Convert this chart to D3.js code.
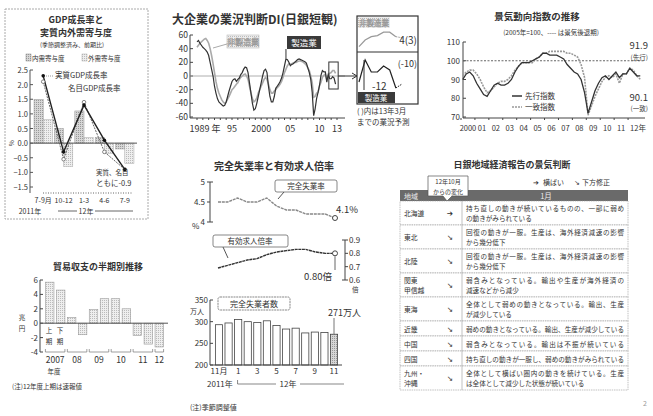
<!DOCTYPE html>
<html><head><meta charset="utf-8">
<script src="https://cdn.jsdelivr.net/npm/d3@7"></script>
<style>
body{margin:0;background:#fff}
text{font-family:"Noto Sans CJK JP",sans-serif;fill:#333}
.ttl{font-weight:bold}
</style></head><body>
<svg id="svg1" width="653" height="416"></svg>
<script>
// GDP
var gdpQuarters = ["7-9月","10-12","1-3","4-6","7-9"];
var gdpDomestic = [1.5, 0.5, 1.1, 0.2, -0.2];
var gdpExternal = [0.8, -0.8, 0.2, -0.35, -0.7];
var gdpReal = [2.3, -0.3, 1.3, 0.1, -0.9];
var gdpNominal = [2.1, -0.55, 1.4, -0.3, -0.9];
var gdpTicks = [2.5, 2.0, 1.5, 1.0, 0.5, 0.0, -0.5, -1.0, -1.5];

// 短観DI (quarterly from 1989)
var diStart = 1989;
var diMfg = [50,52,48,45, 42,40,38,35, 30,20,10,0, -15,-25,-33,-38, -40,-42,-44,-43, -38,-30,-22,-15,
  -8,-5,-4,-8, -5,-3,2,5, 10,13,12,5, -10,-25,-40,-50, -48,-40,-30,-20, -10,0,8,10,
  5,-15,-30,-38, -38,-30,-18,-15, -12,-8,-3,5, 15,25,24,20, 15,17,18,20, 22,24,25,24,
  23,22,21,19, 12,5,-5,-24, -58,-48,-33,-24, -14,1,8,6, 6,-9,2,-4, -4,-1,-3,-12];
var diNonMfg = [42,45,48,50, 52,54,55,52, 48,40,30,18, 5,-8,-18,-25, -30,-35,-38,-40, -38,-34,-30,-25,
  -20,-18,-15,-12, -10,-5,-2,0, 2,3,0,-5, -15,-25,-33,-38, -36,-32,-25,-20, -15,-10,-5,-2,
  -5,-12,-20,-25, -25,-22,-20,-17, -15,-12,-8,-2, 5,10,15,18, 17,18,19,20, 20,21,22,22,
  21,20,18,16, 12,8,0,-10, -31,-30,-25,-24, -14,-9,-2,1, 3,-5,1,4, 5,8,8,4];
var diForecastMfg = -10, diForecastNon = 3;
var diTicks = [60,40,20,0,-20,-40,-60];
var diXLabels = [[1989,"1989 年"],[1995,"95"],[2000,"2000"],[2005,"05"],[2010,"10"],[2013,"13"]];

// 景気動向指数 (quarterly from 2000)
var ciStart = 2000;
var ciLeading = [90,93,94,92, 88,85,82,81, 84,87,88,87, 87,88,90,94, 97,99,99,99, 100,101,102,104,
  104,103,103,103, 102,101,98,96, 94,93,90,83, 72,78,84,88, 91,92,90,92, 94,91,93,93, 96,94,92,91.9];
var ciCoincident = [92,94,95,95, 93,90,86,83, 84,86,88,89, 89,90,92,95, 97,99,99,99, 99,101,102,104,
  104,105,105,105, 105,105,104,104, 103,102,98,91, 71,76,81,85, 89,91,92,91, 93,88,93,93, 96,95,92,90.1];
var ciTicks = [110,100,90,80,70];
var ciXLabels = ["2000","01","02","03","04","05","06","07","08","09","10","11","12年"];

// 貿易収支
var tradeHalves = ["07上","07下","08上","08下","09上","09下","10上","10下","11上","11下","12上"];
var tradeValues = [5.7, 4.6, 0.8, -1.6, 1.9, 3.4, 3.4, 2.0, -1.7, -2.9, -3.3];
var tradeTicks = [6,4,2,0,-2,-4];
var tradeYears = ["2007","08","09","10","11","12"];

// 失業
var jobMonths = ["11月","12","1","2","3","4","5","6","7","8","9","10","11"];
var unempRate = [4.5,4.5,4.6,4.5,4.5,4.6,4.4,4.3,4.3,4.2,4.2,4.2,4.1];
var jobRatio = [0.69,0.71,0.73,0.75,0.76,0.79,0.81,0.82,0.83,0.83,0.81,0.80,0.80];
var unempCount = [293,297,305,300,298,302,291,283,285,274,276,275,271];
var unempTicks = [5,4.5,4];
var ratioTicks = [0.9,0.8,0.7,0.6];
var countTicks = [350,300,250,200];

// 地域経済報告
var regions = [["北海道"],["東北"],["北陸"],["関東","甲信越"],["東海"],["近畿"],["中国"],["四国"],["九州・","沖縄"]];
var regionChange = ["横ばい","下方修正","下方修正","下方修正","下方修正","下方修正","下方修正","下方修正","下方修正"];
var regionText = [
  ["持ち直しの動きが続いているものの、一部に弱め","の動きがみられている"],
  ["回復の動きが一服。生産は、海外経済減速の影響","から幾分低下"],
  ["回復の動きが一服。生産は、海外経済減速の影響","から幾分低下"],
  ["弱含みとなっている。輸出や生産が海外経済の","減速などから減少"],
  ["全体として弱めの動きとなっている。輸出、生産","が減少している"],
  ["弱めの動きとなっている。輸出、生産が減少している"],
  ["弱含みとなっている。輸出は不振が続いている"],
  ["持ち直しの動きが一服し、弱めの動きがみられている"],
  ["全体として横ばい圏内の動きを続けている。生産","は全体として減少した状態が続いている"]
];

var svg = d3.select("#svg1");
var defs = svg.append("defs");
function dots(id, bg, dot){
  var p = defs.append("pattern").attr("id", id).attr("width", 2).attr("height", 2).attr("patternUnits", "userSpaceOnUse");
  p.append("rect").attr("width", 2).attr("height", 2).attr("fill", bg);
  p.append("rect").attr("width", 1).attr("height", 1).attr("fill", dot);
}
dots("dotDark", "#d6d6d6", "#999");
dots("dotLight", "#eee", "#bbb");

function txt(g, x, y, s, size, anchor){
  return g.append("text").attr("x", x).attr("y", y).attr("font-size", size)
    .attr("text-anchor", anchor || "start").text(s);
}

/* ---------- GDP ---------- */
var g1 = svg.append("g");
g1.append("rect").attr("x", 5).attr("y", 9).attr("width", 143).attr("height", 210)
  .attr("fill", "none").attr("stroke", "#aaa").attr("stroke-dasharray", "2,1");
txt(g1, 76, 23, "GDP成長率と", 9, "middle").attr("class", "ttl");
txt(g1, 76, 36, "実質内外需寄与度", 9, "middle").attr("class", "ttl");
txt(g1, 72, 47, "(季節調整済み、前期比)", 6, "middle");
g1.append("rect").attr("x", 26).attr("y", 54).attr("width", 5).attr("height", 7).attr("fill", "url(#dotDark)").attr("stroke", "#888").attr("stroke-width", 0.5);
txt(g1, 32, 61, "内需寄与度", 6.5);
g1.append("rect").attr("x", 82).attr("y", 54).attr("width", 5).attr("height", 7).attr("fill", "url(#dotLight)").attr("stroke", "#aaa").attr("stroke-width", 0.5);
txt(g1, 88, 61, "外需寄与度", 6.5);

var xG = d3.scaleBand().domain(gdpQuarters).range([32, 136]).padding(0.1);
var yG = d3.scaleLinear().domain([-1.5, 2.5]).range([187, 70]);
g1.append("line").attr("x1", 30).attr("x2", 30).attr("y1", 70).attr("y2", 193).attr("stroke", "#555");
gdpTicks.forEach(function(t){
  g1.append("line").attr("x1", 30).attr("x2", 33).attr("y1", yG(t)).attr("y2", yG(t)).attr("stroke", "#555");
  txt(g1, 28, yG(t) + 3, d3.format(".1f")(t), 7.5, "end");
});
txt(g1, 9, yG(0) - 3, "%", 6.5).attr("transform", "rotate(90,9," + (yG(0) - 3) + ")");
var half = xG.bandwidth() / 2;
g1.selectAll(".dom").data(gdpDomestic).enter().append("rect")
  .attr("x", function(d, i){ return xG(gdpQuarters[i]); })
  .attr("width", half)
  .attr("y", function(d){ return yG(Math.max(0, d)); })
  .attr("height", function(d){ return Math.abs(yG(d) - yG(0)); })
  .attr("fill", "url(#dotDark)").attr("stroke", "#999").attr("stroke-width", 0.5);
g1.selectAll(".ext").data(gdpExternal).enter().append("rect")
  .attr("x", function(d, i){ return xG(gdpQuarters[i]) + half; })
  .attr("width", half)
  .attr("y", function(d){ return yG(Math.max(0, d)); })
  .attr("height", function(d){ return Math.abs(yG(d) - yG(0)); })
  .attr("fill", "url(#dotLight)").attr("stroke", "#aaa").attr("stroke-width", 0.5);
g1.append("line").attr("x1", 30).attr("x2", 137).attr("y1", yG(0)).attr("y2", yG(0)).attr("stroke", "#555");
var cx = function(d, i){ return xG(gdpQuarters[i]) + half; };
var lineG = d3.line().x(cx).y(function(d){ return yG(d); });
g1.append("path").attr("d", lineG(gdpNominal)).attr("fill", "none").attr("stroke", "#666").attr("stroke-width", 1).attr("stroke-dasharray", "2,1");
g1.append("path").attr("d", lineG(gdpReal)).attr("fill", "none").attr("stroke", "#222").attr("stroke-width", 1.4);
g1.selectAll(".nom").data(gdpNominal).enter().append("circle").attr("cx", cx).attr("cy", function(d){ return yG(d); })
  .attr("r", 1.8).attr("fill", "#fff").attr("stroke", "#555").attr("stroke-width", 0.7);
g1.selectAll(".real").data(gdpReal).enter().append("circle").attr("cx", cx).attr("cy", function(d){ return yG(d); })
  .attr("r", 1.8).attr("fill", "#111");
txt(g1, 55, 78, "実質GDP成長率", 7.5);
g1.append("line").attr("x1", 46).attr("x2", 54).attr("y1", 76).attr("y2", 76).attr("stroke", "#999").attr("stroke-dasharray", "1,1");
txt(g1, 68, 91, "名目GDP成長率", 7.5);
txt(g1, 96, 175, "実質、名目", 6.5);
txt(g1, 96, 186, "ともに-0.9", 7.5);
g1.append("line").attr("x1", 43).attr("x2", 133).attr("y1", 193).attr("y2", 193).attr("stroke", "#666").attr("stroke-dasharray", "1,1.5");
gdpQuarters.forEach(function(q, i){
  txt(g1, xG(q) + half, 203, q, 7, "middle");
});
txt(g1, 30, 214, "2011年", 7, "middle");
g1.append("line").attr("x1", 58).attr("x2", 77).attr("y1", 211).attr("y2", 211).attr("stroke", "#666");
g1.append("line").attr("x1", 95).attr("x2", 133).attr("y1", 211).attr("y2", 211).attr("stroke", "#666");
txt(g1, 86, 214, "12年", 7, "middle");

/* ---------- DI ---------- */
var g2 = svg.append("g");
txt(g2, 172, 24, "大企業の業況判断DI(日銀短観)", 12).attr("class", "ttl");
var xD = d3.scaleLinear().domain([1989, 2013]).range([197, 337]);
var yD = d3.scaleLinear().domain([-60, 60]).range([117, 35]);
g2.append("line").attr("x1", 190).attr("x2", 190).attr("y1", 35).attr("y2", 118).attr("stroke", "#444");
diTicks.forEach(function(t){
  g2.append("line").attr("x1", 190).attr("x2", 193).attr("y1", yD(t)).attr("y2", yD(t)).attr("stroke", "#444");
  txt(g2, 188, yD(t) + 3, t, 8.5, "end");
});
g2.append("line").attr("x1", 190).attr("x2", 345).attr("y1", yD(0)).attr("y2", yD(0)).attr("stroke", "#999").attr("stroke-width", 0.8);
g2.append("line").attr("x1", 190).attr("x2", 345).attr("y1", 118).attr("y2", 118).attr("stroke", "#444");
d3.range(1989, 2014).forEach(function(y){
  g2.append("line").attr("x1", xD(y)).attr("x2", xD(y)).attr("y1", 118).attr("y2", 120).attr("stroke", "#444");
});
diXLabels.forEach(function(d){
  txt(g2, xD(d[0]) + (d[0] == 1989 ? 8 : 0), 132, d[1], 9, "middle");
});
var lineD = d3.line().x(function(d, i){ return xD(diStart + i / 4); }).y(function(d){ return yD(d); });
g2.append("path").attr("d", lineD(diNonMfg)).attr("fill", "none").attr("stroke", "#aaa").attr("stroke-width", 1.6);
g2.append("path").attr("d", lineD(diMfg)).attr("fill", "none").attr("stroke", "#333").attr("stroke-width", 1.2);
// labels
g2.append("rect").attr("x", 227).attr("y", 35).attr("width", 32).attr("height", 13).attr("fill", "url(#dotLight)").attr("stroke", "#bbb").attr("stroke-width", 0.6);
txt(g2, 243, 45, "非製造業", 8, "middle").style("fill", "#fff").attr("stroke", "#999").attr("stroke-width", 0.5);
g2.append("line").attr("x1", 227).attr("x2", 213).attr("y1", 44).attr("y2", 48).attr("stroke", "#aaa");
g2.append("rect").attr("x", 287).attr("y", 36).attr("width", 34).attr("height", 13).attr("fill", "#3a3a3a");
txt(g2, 304, 46, "製造業", 8.5, "middle").style("fill", "#fff");
g2.append("line").attr("x1", xD(2004.25)).attr("x2", xD(2004.25)).attr("y1", 49).attr("y2", yD(26)).attr("stroke", "#333");
// highlight & inset
g2.append("rect").attr("x", xD(2011.6)).attr("y", 62).attr("width", xD(2013.2) - xD(2011.6)).attr("height", 27).attr("fill", "none").attr("stroke", "#333").attr("stroke-width", 1);
g2.append("path").attr("d", "M" + xD(2013.2) + ",76 L357,76 M352,73 L357,76 L352,79").attr("stroke", "#333").attr("fill", "none").attr("stroke-width", 1);
g2.append("rect").attr("x", 357).attr("y", 16).attr("width", 61).attr("height", 88).attr("fill", "#fff").attr("stroke", "#333").attr("stroke-width", 1.2);
g2.append("line").attr("x1", 357).attr("x2", 418).attr("y1", 52).attr("y2", 52).attr("stroke", "#333").attr("stroke-width", 1.2);
var n = diMfg.length, first = n - 7;
var xI = d3.scaleLinear().domain([diStart + first / 4, diStart + n / 4]).range([359, 402]);
var yIn = d3.scaleLinear().domain([-8, 10]).range([50, 30]);
var yIm = d3.scaleLinear().domain([-14, 4]).range([92, 56]);
var sliceNon = diNonMfg.slice(first), sliceMfg = diMfg.slice(first);
var lineIn = d3.line().x(function(d, i){ return xI(diStart + (first + i) / 4); }).y(function(d){ return yIn(d); });
var lineIm = d3.line().x(function(d, i){ return xI(diStart + (first + i) / 4); }).y(function(d){ return yIm(d); });
g2.append("path").attr("d", lineIn(sliceNon)).attr("fill", "none").attr("stroke", "#999").attr("stroke-width", 1.2);
g2.append("path").attr("d", lineIm(sliceMfg)).attr("fill", "none").attr("stroke", "#222").attr("stroke-width", 1.2);
g2.append("line").attr("x1", xI(diStart + (n - 1) / 4)).attr("x2", xI(diStart + n / 4)).attr("y1", yIn(diNonMfg[n - 1])).attr("y2", yIn(diForecastNon)).attr("stroke", "#999").attr("stroke-dasharray", "1.5,1");
g2.append("line").attr("x1", xI(diStart + (n - 1) / 4)).attr("x2", xI(diStart + n / 4)).attr("y1", yIm(diMfg[n - 1])).attr("y2", yIm(diForecastMfg)).attr("stroke", "#222").attr("stroke-dasharray", "1.5,1");
g2.append("rect").attr("x", 358).attr("y", 17).attr("width", 32).attr("height", 11).attr("fill", "url(#dotLight)");
txt(g2, 374, 26, "非製造業", 7.5, "middle").style("fill", "#fff").attr("stroke", "#999").attr("stroke-width", 0.5);
txt(g2, 417, 44, "4(3)", 10, "end");
txt(g2, 417, 67, "(-10)", 9, "end");
txt(g2, 372, 90, "-12", 10);
g2.append("line").attr("x1", 364).attr("x2", 364).attr("y1", 60).attr("y2", 90).attr("stroke", "#333");
g2.append("rect").attr("x", 358).attr("y", 92).attr("width", 37).attr("height", 11).attr("fill", "#3a3a3a");
txt(g2, 376, 101, "製造業", 7.5, "middle").style("fill", "#fff");
txt(g2, 357, 114, "( )内は13年3月", 7.5);
txt(g2, 357, 125, "までの業況予測", 7.5);

/* ---------- 景気動向指数 ---------- */
var g3 = svg.append("g");
txt(g3, 537, 20, "景気動向指数の推移", 9.5, "middle").attr("class", "ttl");
txt(g3, 551, 35, "(2005年=100、---- は景気後退期)", 6.5, "middle");
var xC = d3.scaleLinear().domain([2000, 2013]).range([461, 642]);
var yC = d3.scaleLinear().domain([70, 110]).range([117, 42]);
g3.append("line").attr("x1", 463).attr("x2", 463).attr("y1", 42).attr("y2", 118).attr("stroke", "#444");
ciTicks.forEach(function(t){
  g3.append("line").attr("x1", 463).attr("x2", 466).attr("y1", yC(t)).attr("y2", yC(t)).attr("stroke", "#444");
  txt(g3, 460, yC(t) + 3, t, 8, "end");
});
g3.append("line").attr("x1", 463).attr("x2", 645).attr("y1", 118).attr("y2", 118).attr("stroke", "#444");
g3.append("line").attr("x1", 463).attr("x2", 645).attr("y1", yC(100)).attr("y2", yC(100)).attr("stroke", "#666").attr("stroke-dasharray", "2,1.5");
ciXLabels.forEach(function(l, i){
  g3.append("line").attr("x1", xC(2000 + i)).attr("x2", xC(2000 + i)).attr("y1", 118).attr("y2", 120).attr("stroke", "#444");
  txt(g3, xC(2000.5 + i) + (i == 12 ? 3 : 0), 131, l, 7.5, "middle");
});
var lineC = d3.line().x(function(d, i){ return xC(ciStart + i / 4 + 0.125); }).y(function(d){ return yC(d); });
g3.append("path").attr("d", lineC(ciCoincident)).attr("fill", "none").attr("stroke", "#999").attr("stroke-width", 1.6).attr("stroke-dasharray", "2,1");
g3.append("path").attr("d", lineC(ciLeading)).attr("fill", "none").attr("stroke", "#333").attr("stroke-width", 1.3);
g3.append("line").attr("x1", 512).attr("x2", 522).attr("y1", 96).attr("y2", 96).attr("stroke", "#333").attr("stroke-width", 1.5);
txt(g3, 525, 99, "先行指数", 7.5);
g3.append("line").attr("x1", 512).attr("x2", 522).attr("y1", 107).attr("y2", 107).attr("stroke", "#999").attr("stroke-width", 1.5).attr("stroke-dasharray", "2,1");
txt(g3, 525, 110, "一致指数", 7.5);
txt(g3, 648, 49, "91.9", 9.5, "end");
txt(g3, 648, 60, "(先行)", 6.5, "end");
txt(g3, 648, 101, "90.1", 9.5, "end");
txt(g3, 648, 111, "(一致)", 6.5, "end");

/* ---------- 貿易収支 ---------- */
var g4 = svg.append("g");
txt(g4, 98, 270, "貿易収支の半期別推移", 9, "middle").attr("class", "ttl");
var xT = d3.scaleBand().domain(tradeHalves).range([43, 166]).padding(0.22);
var yT = d3.scaleLinear().domain([-4, 6]).range([352, 280]);
g4.append("line").attr("x1", 40).attr("x2", 40).attr("y1", 280).attr("y2", 352).attr("stroke", "#444");
tradeTicks.forEach(function(t){
  g4.append("line").attr("x1", 40).attr("x2", 43).attr("y1", yT(t)).attr("y2", yT(t)).attr("stroke", "#444");
  txt(g4, 38, yT(t) + 3, t, 8, "end");
});
txt(g4, 22, 320, "兆", 6.5, "middle");
txt(g4, 22, 331, "円", 6.5, "middle");
g4.selectAll(".tb").data(tradeValues).enter().append("rect")
  .attr("x", function(d, i){ return xT(tradeHalves[i]); })
  .attr("width", xT.bandwidth())
  .attr("y", function(d){ return yT(Math.max(0, d)); })
  .attr("height", function(d){ return Math.abs(yT(d) - yT(0)); })
  .attr("fill", "url(#dotLight)").attr("stroke", "#999").attr("stroke-width", 0.6);
g4.append("line").attr("x1", 40).attr("x2", 168).attr("y1", yT(0)).attr("y2", yT(0)).attr("stroke", "#555");
txt(g4, 49, 333, "上", 6.5, "middle"); txt(g4, 49, 344, "期", 6.5, "middle");
txt(g4, 60, 333, "下", 6.5, "middle"); txt(g4, 60, 344, "期", 6.5, "middle");
tradeYears.forEach(function(y, i){
  var a = xT(tradeHalves[i * 2]), b = i * 2 + 1 < tradeHalves.length ? xT(tradeHalves[i * 2 + 1]) + xT.bandwidth() : a + xT.bandwidth();
  g4.append("path").attr("d", "M" + a + ",349 V352 H" + b + " V349").attr("fill", "none").attr("stroke", "#777").attr("stroke-width", 0.7);
  txt(g4, (a + b) / 2, 363, y, 8.5, "middle");
});
txt(g4, 54, 374, "年度", 6.5, "middle");
txt(g4, 12, 389, "(注)12年度上期は速報値", 6.5);

/* ---------- 失業 ---------- */
var g5 = svg.append("g");
txt(g5, 274, 170, "完全失業率と有効求人倍率", 10, "middle").attr("class", "ttl");
var xM = d3.scaleLinear().domain([0, 12]).range([218, 335]);
var yU = d3.scaleLinear().domain([4, 5]).range([222, 182]);
g5.append("path").attr("d", "M213,182 H210 V222 H213").attr("fill", "none").attr("stroke", "#444");
unempTicks.forEach(function(t){
  g5.append("line").attr("x1", 207).attr("x2", 210).attr("y1", yU(t)).attr("y2", yU(t)).attr("stroke", "#444");
  txt(g5, 205, yU(t) + 3, t, 8, "end");
});
txt(g5, 192, 229, "%", 8);
var lineU = d3.line().x(function(d, i){ return xM(i); }).y(function(d){ return yU(d); });
g5.append("path").attr("d", lineU(unempRate)).attr("fill", "none").attr("stroke", "#888").attr("stroke-width", 1.4).attr("stroke-dasharray", "3,0.8");
g5.append("circle").attr("cx", xM(12)).attr("cy", yU(unempRate[12])).attr("r", 2.5).attr("fill", "#fff").attr("stroke", "#444");
g5.append("rect").attr("x", 275).attr("y", 180).attr("width", 62).attr("height", 12).attr("rx", 2).attr("fill", "#fff").attr("stroke", "#555").attr("stroke-width", 0.7);
txt(g5, 306, 189, "完全失業率", 7.5, "middle");
g5.append("line").attr("x1", 284).attr("x2", 278).attr("y1", 192).attr("y2", 199).attr("stroke", "#555");
txt(g5, 336, 213, "4.1%", 9.5);

var yR = d3.scaleLinear().domain([0.6, 0.9]).range([280, 240]);
g5.append("path").attr("d", "M342,240 H345 V280 H342").attr("fill", "none").attr("stroke", "#444");
ratioTicks.forEach(function(t){
  g5.append("line").attr("x1", 345).attr("x2", 348).attr("y1", yR(t)).attr("y2", yR(t)).attr("stroke", "#444");
  txt(g5, 349, yR(t) + 3, t, 8);
});
txt(g5, 352, 292, "倍", 6.5);
var lineR = d3.line().x(function(d, i){ return xM(i); }).y(function(d){ return yR(d); });
g5.append("path").attr("d", lineR(jobRatio)).attr("fill", "none").attr("stroke", "#333").attr("stroke-width", 1.4).attr("stroke-dasharray", "3,0.6");
g5.append("circle").attr("cx", xM(12)).attr("cy", yR(jobRatio[12])).attr("r", 2.5).attr("fill", "#fff").attr("stroke", "#444");
g5.append("line").attr("x1", xM(12)).attr("x2", xM(12)).attr("y1", yR(jobRatio[12]) + 3).attr("y2", 270).attr("stroke", "#666");
g5.append("rect").attr("x", 213).attr("y", 235).attr("width", 75).attr("height", 12).attr("rx", 2).attr("fill", "#fff").attr("stroke", "#555").attr("stroke-width", 0.7);
txt(g5, 250, 244, "有効求人倍率", 7.5, "middle");
g5.append("line").attr("x1", 223).attr("x2", 228).attr("y1", 247).attr("y2", 258).attr("stroke", "#555");
txt(g5, 304, 280, "0.80倍", 9.5);

var yN = d3.scaleLinear().domain([200, 350]).range([365, 300]);
g5.append("line").attr("x1", 210).attr("x2", 210).attr("y1", 300).attr("y2", 365).attr("stroke", "#444");
countTicks.forEach(function(t){
  g5.append("line").attr("x1", 210).attr("x2", 213).attr("y1", yN(t)).attr("y2", yN(t)).attr("stroke", "#444");
  txt(g5, 208, yN(t) + 3, t, 8, "end");
});
txt(g5, 190, 314, "万人", 7);
var xB = d3.scaleBand().domain(jobMonths.map(function(m, i){ return i; })).range([213, 340]).padding(0.25);
g5.selectAll(".cb").data(unempCount).enter().append("rect")
  .attr("x", function(d, i){ return xB(i); })
  .attr("width", xB.bandwidth())
  .attr("y", function(d){ return yN(d); })
  .attr("height", function(d){ return yN(200) - yN(d); })
  .attr("fill", function(d, i){ return i == 12 ? "url(#dotDark)" : "#fff"; })
  .attr("stroke", "#444").attr("stroke-width", 0.8);
g5.append("line").attr("x1", 210).attr("x2", 342).attr("y1", 365).attr("y2", 365).attr("stroke", "#444");
jobMonths.forEach(function(m, i){
  if (i % 2 == 0) txt(g5, xB(i) + xB.bandwidth() / 2, 374, m, 8, "middle");
});
g5.append("rect").attr("x", 218).attr("y", 297).attr("width", 72).attr("height", 13).attr("rx", 2).attr("fill", "#fff").attr("stroke", "#555").attr("stroke-width", 0.7).attr("stroke-dasharray", "2,0.7");
txt(g5, 254, 307, "完全失業者数", 8, "middle");
txt(g5, 361, 316, "271万人", 9, "end");
g5.append("line").attr("x1", xB(12) + xB.bandwidth() / 2).attr("x2", xB(12) + xB.bandwidth() / 2).attr("y1", 318).attr("y2", yN(unempCount[12])).attr("stroke", "#777");
txt(g5, 207, 387, "2011年", 8);
txt(g5, 288, 387, "12年", 8, "middle");
g5.append("path").attr("d", "M" + (xB(2) + 3) + ",380 V384 H276 M300,384 H344").attr("fill", "none").attr("stroke", "#555").attr("stroke-width", 0.7);
txt(g5, 190, 410, "(注)季節調整値", 7);

/* ---------- 地域経済報告 ---------- */
var g6 = svg.append("g");
txt(g6, 512, 168, "日銀地域経済報告の景気判断", 9, "middle").attr("class", "ttl");
txt(g6, 533, 185, "➔", 7).style("font-family", "DejaVu Sans");
txt(g6, 543, 185, "横ばい", 7);
txt(g6, 574, 185, "↘", 7).style("font-family", "DejaVu Sans");
txt(g6, 582, 185, "下方修正", 7);
var tl = 400, tr = 628;
g6.append("rect").attr("x", tl).attr("y", 190).attr("width", tr - tl).attr("height", 11).attr("fill", "#6a6a6a");
txt(g6, 411, 199, "地域", 7, "middle").style("fill", "#eee");
txt(g6, 546, 199, "1月", 7.5, "middle").style("fill", "#eee");
g6.append("path").attr("d", "M428,176 H468 V196 H452 L447,201 L443,196 H428 Z").attr("fill", "#fff").attr("stroke", "#555").attr("stroke-width", 0.7);
txt(g6, 448, 184, "12年10月", 6, "middle");
txt(g6, 448, 194, "からの変化", 6, "middle");
var rowTop = 201;
regionText.forEach(function(lines, i){
  var h = lines.length == 2 ? 24 : 15;
  g6.append("rect").attr("x", tl).attr("y", rowTop).attr("width", tr - tl).attr("height", h)
    .attr("fill", "#fff").attr("stroke", "#999").attr("stroke-width", 0.6).attr("stroke-dasharray", "1.5,0.8");
  g6.append("line").attr("x1", 462).attr("x2", 462).attr("y1", rowTop).attr("y2", rowTop + h).attr("stroke", "#999").attr("stroke-width", 0.6);
  var r = regions[i];
  r.forEach(function(s, j){
    var yy = rowTop + h / 2 + 3 + (r.length == 2 ? (j - 0.5) * 10 : 0);
    txt(g6, 404, yy, s, 6.8);
  });
  txt(g6, 450, rowTop + h / 2 + 3, regionChange[i] == "横ばい" ? "➔" : "↘", 7.5, "middle").style("font-family", "DejaVu Sans");
  lines.forEach(function(s, j){
    var yy = rowTop + h / 2 + 3 + (lines.length == 2 ? (j - 0.5) * 10 : 0);
    txt(g6, 466, yy, s, 6.6).attr("textLength", j == 0 || lines.length == 1 ? 158 : null);
  });
  rowTop += h;
});
txt(g6, 643, 406, "2", 7).style("fill", "#999");
</script>
</body></html>
